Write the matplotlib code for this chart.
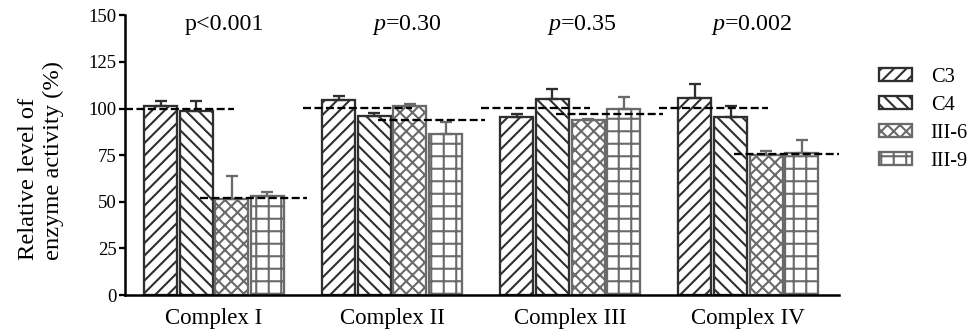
import matplotlib

matplotlib.use("Agg")
import matplotlib.pyplot as plt
import numpy as np
from matplotlib.patches import Patch

# Data
complexes = ["Complex I", "Complex II", "Complex III", "Complex IV"]
groups = ["C3", "C4", "III-6", "III-9"]
means = {
    "C3": [101.5, 104.5, 95.7, 105.6],
    "C4": [98.5, 96.0, 105.2, 95.3],
    "III-6": [51.5, 101.5, 93.8, 75.0],
    "III-9": [53.0, 86.5, 100.0, 76.4],
}
errors = {
    "C3": [2.5, 2.5, 1.3, 7.5],
    "C4": [5.5, 1.8, 5.4, 6.3],
    "III-6": [12.5, 1.0, 0.5, 2.0],
    "III-9": [2.3, 6.5, 6.0, 6.6],
}
p_labels = ["p<0.001", "$\\mathit{p}$=0.30", "$\\mathit{p}$=0.35", "$\\mathit{p}$=0.002"]

hatches = {"C3": "//", "C4": "\\\\", "III-6": "xx", "III-9": "+"}
edge = {"C3": "#2f2f2f", "C4": "#2f2f2f", "III-6": "#6a6a6a", "III-9": "#6a6a6a"}

plt.rcParams["font.family"] = ["Liberation Serif", "DejaVu Serif"]
plt.rcParams["mathtext.fontset"] = "custom"
plt.rcParams["mathtext.it"] = "Liberation Serif:italic"
plt.rcParams["mathtext.rm"] = "Liberation Serif"
plt.rcParams["hatch.linewidth"] = 2.0

DPI = 75
fig = plt.figure(figsize=(969 / DPI, 333 / DPI), dpi=DPI)
ax = fig.add_axes([0.129, 0.114, 0.737, 0.840])

x = np.arange(len(complexes))
width = 0.185
step = 0.2

for i, g in enumerate(groups):
    pos = x + (i - 1.5) * step
    ax.bar(pos, means[g], width, facecolor="white", edgecolor=edge[g],
           hatch=hatches[g], linewidth=2.2, zorder=2)
    ax.errorbar(pos, means[g], yerr=[np.zeros(len(x)), errors[g]], fmt="none",
                ecolor=edge[g], elinewidth=2.2, capsize=6, capthick=2.2, zorder=3)

# group mean reference lines (controls vs. treated)
ctrl = (np.array(means["C3"]) + np.array(means["C4"])) / 2
trt = (np.array(means["III-6"]) + np.array(means["III-9"])) / 2
for k in range(len(x)):
    ax.plot([x[k] - 0.5, x[k] + 0.11], [ctrl[k], ctrl[k]], color="black",
            lw=2.2, ls=(0, (3.5, 1.5)), zorder=4)
    ax.plot([x[k] - 0.08, x[k] + 0.52], [trt[k], trt[k]], color="black",
            lw=2.2, ls=(0, (3.5, 1.5)), zorder=4)

p_offsets = [0.056, 0.084, 0.067, 0.02]
for k, lab in enumerate(p_labels):
    ax.text(x[k] + p_offsets[k], 145, lab, ha="center", va="center", fontsize=23)

ax.set_xlim(-0.5, 3.51)
ax.set_ylim(0, 150)
ax.set_yticks(np.arange(0, 151, 25))
ax.set_xticks(x)
ax.set_xticklabels(complexes, fontsize=22)
ax.tick_params(axis="x", length=0, pad=12)
ax.tick_params(axis="y", labelsize=18, width=2.2, length=6, pad=2)
for s in ["top", "right"]:
    ax.spines[s].set_visible(False)
for s in ["left", "bottom"]:
    ax.spines[s].set_linewidth(2.4)
ax.set_ylabel("Relative level of\nenzyme activity (%)", fontsize=23.5,
              linespacing=1.2, multialignment="left")
ax.yaxis.set_label_coords(-0.086, 0.482)

handles = [Patch(facecolor="white", edgecolor=edge[g], hatch=hatches[g],
                 linewidth=2.2, label=g) for g in groups]
fig.legend(handles=handles, loc="upper left", bbox_to_anchor=(0.907, 0.797),
           frameon=False, fontsize=19.5, handlelength=1.65, handleheight=0.6,
           handletextpad=0.9, labelspacing=0.45, borderpad=0, borderaxespad=0)

fig.savefig("out.png", dpi=DPI)
